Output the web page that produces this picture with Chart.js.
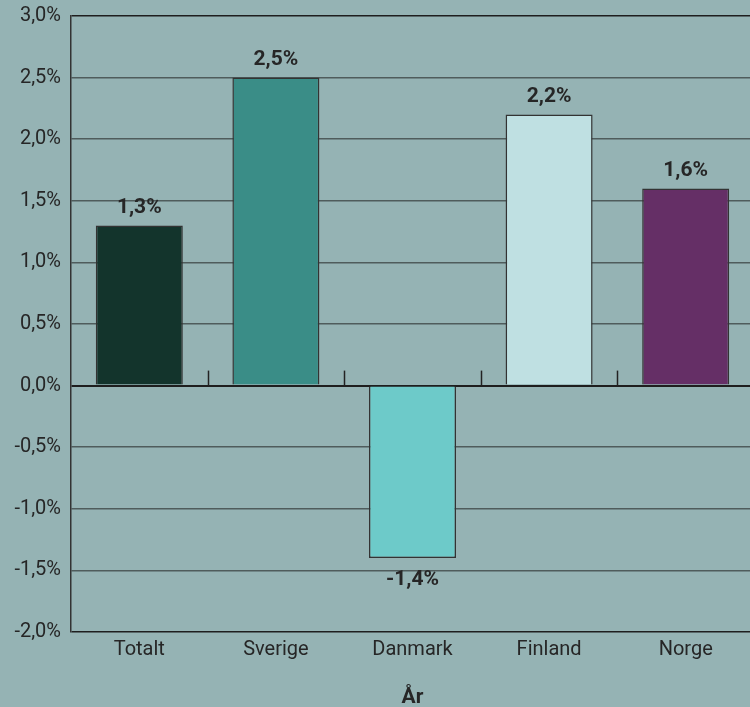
<!DOCTYPE html>
<html>
<head>
<meta charset="utf-8">
<script src="https://cdn.jsdelivr.net/npm/chart.js@4"></script>
<style>
  html, body { margin: 0; padding: 0; background: #95b3b4; overflow: hidden; }
  #wrap { width: 760px; height: 707px; }
</style>
</head>
<body>
<div id="wrap"><canvas id="c" width="760" height="707"></canvas></div>
<script>
// Förändring per land
const LABELS = ["Totalt", "Sverige", "Danmark", "Finland", "Norge"];
const VALUES = [1.3, 2.5, -1.4, 2.2, 1.6];
const COLORS = ["#13342c", "#3a8d87", "#6dcac9", "#bfe0e2", "#652f66"];
const Y_MIN = -2.0, Y_MAX = 3.0, Y_STEP = 0.5;

const TXT = "#262626";
const FONT = "Roboto";
const pct = (v) => v.toFixed(1).replace(".", ",") + "%";

// value labels above positive bars / below negative ones
const valueLabels = {
  id: "valueLabels",
  afterDatasetsDraw(chart) {
    const { ctx } = chart;
    const meta = chart.getDatasetMeta(0);
    ctx.save();
    ctx.font = `bold 21px ${FONT}`;
    ctx.fillStyle = TXT;
    ctx.textAlign = "center";
    ctx.textBaseline = "middle";
    meta.data.forEach((bar, i) => {
      const v = VALUES[i];
      ctx.fillText(pct(v), bar.x, v >= 0 ? bar.y - 18 : bar.y + 22);
    });
    ctx.restore();
  },
};

// small category-boundary ticks rising from the zero line
const zeroTicks = {
  id: "zeroTicks",
  beforeDatasetsDraw(chart) {
    const { ctx, scales: { x, y } } = chart;
    const y0 = y.getPixelForValue(0);
    ctx.save();
    ctx.strokeStyle = "#222";
    ctx.lineWidth = 1.5;
    for (let i = 1; i < LABELS.length; i++) {
      const px = Math.round((x.getPixelForValue(i - 1) + x.getPixelForValue(i)) / 2) + 0.5;
      ctx.beginPath();
      ctx.moveTo(px, y0);
      ctx.lineTo(px, y0 - 15);
      ctx.stroke();
    }
    ctx.restore();
  },
};

new Chart(document.getElementById("c"), {
  type: "bar",
  data: {
    labels: LABELS,
    datasets: [{
      data: VALUES,
      backgroundColor: COLORS,
      borderColor: "#333",
      borderWidth: 1.5,
      borderSkipped: "start",
      categoryPercentage: 1,
      barPercentage: 0.637,
    }],
  },
  options: {
    responsive: false,
    animation: false,
    layout: { padding: { top: 16, right: 6, left: 0, bottom: 0 } },
    plugins: { legend: { display: false }, tooltip: { enabled: false } },
    scales: {
      x: {
        grid: { display: false },
        border: { display: false },
        ticks: { color: TXT, font: { family: FONT, size: 20 }, padding: -2, maxRotation: 0 },
        title: { display: true, text: "År", color: TXT, font: { family: FONT, size: 21, weight: "bold" }, padding: { top: 0, bottom: -3 } },
        afterFit: (s) => { s.height = 75; },
      },
      y: {
        min: Y_MIN, max: Y_MAX,
        grid: {
          drawTicks: false,
          color: (c) => (c.tick.value === 0 || c.tick.value === Y_MAX || c.tick.value === Y_MIN) ? "#1e1e1e" : "#4f5c5c",
          lineWidth: (c) => (c.tick.value === 0 ? 2 : 1.5),
        },
        border: { display: true, color: "#333", width: 1.5 },
        ticks: { stepSize: Y_STEP, color: TXT, font: { family: FONT, size: 20 }, padding: 10, callback: (v) => pct(v) },
        afterFit: (s) => { s.width = 71; s.paddingTop = 0; s.paddingBottom = 0; },
      },
    },
  },
  plugins: [zeroTicks, valueLabels],
});
</script>
</body>
</html>
